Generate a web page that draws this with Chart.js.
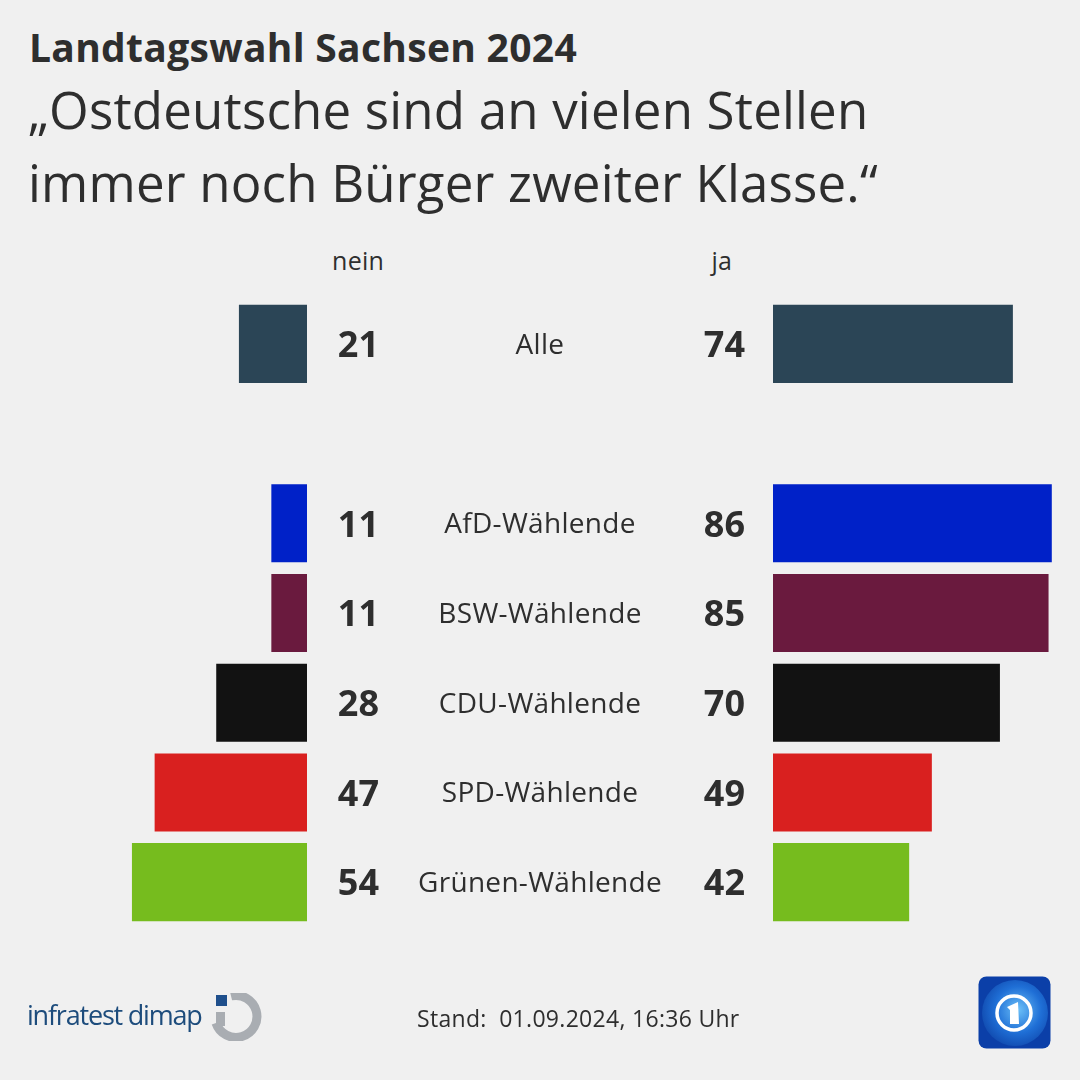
<!DOCTYPE html>
<html><head><meta charset="utf-8">
<script src="https://cdn.jsdelivr.net/npm/chart.js@4/dist/chart.umd.min.js"></script>
<style>
html,body{margin:0;padding:0;background:#f0f0f0;}
#wrap{position:relative;width:1080px;height:1080px;overflow:hidden;background:#f0f0f0;font-family:"Open Sans",sans-serif;color:#2e2e2e;}
canvas{position:absolute;left:0;top:0;}
.t{position:absolute;white-space:nowrap;}
</style></head><body>
<div id="wrap">
<div class="t" style="left:29px;top:20px;font-size:39px;font-weight:700;letter-spacing:0.3px;">Landtagswahl Sachsen 2024</div>
<div class="t" style="left:28px;top:73px;font-size:51px;line-height:73px;letter-spacing:0.2px;">„Ostdeutsche sind an vielen Stellen<br>immer noch Bürger zweiter Klasse.“</div>
<div class="t" id="hNein" style="top:243px;font-size:25px;letter-spacing:0.3px;"></div>
<div class="t" id="hJa" style="top:243px;font-size:25px;letter-spacing:0.3px;"></div>
<div style="position:absolute;left:0;top:0;width:1080px;height:1080px;"><canvas id="cL" width="1080" height="1080"></canvas></div>
<div style="position:absolute;left:0;top:0;width:1080px;height:1080px;"><canvas id="cR" width="1080" height="1080"></canvas></div>
<div class="t" style="left:27px;top:996px;font-size:27px;font-weight:500;color:#1d4c7c;letter-spacing:-1.2px;">infratest dimap</div>
<svg style="position:absolute;left:210px;top:993px;" width="52" height="48" viewBox="0 0 52 48">
  <rect x="6" y="2" width="11" height="11" fill="#1f4f8c"/>
  <path d="M21 3 A21 21 0 1 1 6 30" fill="none" stroke="#a9adb2" stroke-width="9"/>
  <rect x="6" y="19" width="9" height="14" fill="#a9adb2"/>
</svg>
<div class="t" style="left:417px;top:1002px;font-size:23px;letter-spacing:0.3px;">Stand:&nbsp; 01.09.2024, 16:36 Uhr</div>
<svg style="position:absolute;left:978px;top:976px;" width="73" height="73" viewBox="0 0 73 73">
  <defs>
    <radialGradient id="g" cx="0.55" cy="0.45" r="0.7">
      <stop offset="0" stop-color="#6cc0f8"/>
      <stop offset="0.5" stop-color="#1f6fd6"/>
      <stop offset="1" stop-color="#0a3a9e"/>
    </radialGradient>
  </defs>
  <rect x="0.5" y="0.5" width="72" height="72" rx="8" fill="#0b3fa8"/>
  <circle cx="37" cy="37" r="33" fill="url(#g)"/>
  <circle cx="36" cy="37" r="17" fill="none" stroke="#fff" stroke-width="3.5"/>
  <path d="M29 31 L40 26 L41 48 L32 48 L32 34 Z" fill="#fff"/>
</svg>
</div>
<script>
const categories = ['Alle', '', 'AfD-Wählende', 'BSW-Wählende', 'CDU-Wählende', 'SPD-Wählende', 'Grünen-Wählende'];
const neinValues = [21, null, 11, 11, 28, 47, 54];
const jaValues = [74, null, 86, 85, 70, 49, 42];
const barColors = ['#2b4556', '#ffffff', '#0021c8', '#6a1a3e', '#121212', '#d9201f', '#76bc1e'];
const headers = ['nein', 'ja'];

const AXIS_MAX = 94.7;
const TOP = 299, BOTTOM = 153, SPLIT_L = 307, SPLIT_R = 773;
const NUM_L = 379, NUM_R = 745, CENTER = 540;

document.getElementById('hNein').textContent = headers[0];
document.getElementById('hJa').textContent = headers[1];
function placeHeader(id, cx){const el=document.getElementById(id);el.style.left=(cx-el.offsetWidth/2)+'px';}
placeHeader('hNein', 358); placeHeader('hJa', 722);

function textPlugin(values, xNum, drawLabels){
  return {
    id:'txt',
    afterDatasetsDraw(chart){
      const ctx = chart.ctx, ys = chart.scales.y;
      ctx.save();
      ctx.fillStyle = '#2e2e2e';
      ctx.textBaseline = 'middle';
      values.forEach((v,i)=>{
        if(v==null) return;
        const y = ys.getPixelForValue(i);
        ctx.font = '700 36px "Open Sans"';
        ctx.letterSpacing = '0px';
        ctx.textAlign = 'right';
        ctx.fillText(String(v), xNum, y+3);
        if(drawLabels){
          ctx.font = '400 28px "Open Sans"';
          ctx.letterSpacing = '0.3px';
          ctx.textAlign = 'center';
          ctx.fillText(categories[i], CENTER, y+2);
        }
      });
      ctx.restore();
    }
  };
}

function makeChart(id, values, reverse, padding, xNum, drawLabels){
  return new Chart(document.getElementById(id), {
    type:'bar',
    data:{labels:categories, datasets:[{data:values, backgroundColor:barColors, borderWidth:0, barPercentage:0.87, categoryPercentage:1}]},
    options:{
      indexAxis:'y', responsive:false, animation:false,
      layout:{padding:padding},
      plugins:{legend:{display:false}, tooltip:{enabled:false}},
      scales:{
        x:{display:false, min:0, max:AXIS_MAX, reverse:reverse},
        y:{display:false}
      }
    },
    plugins:[textPlugin(values, xNum, drawLabels)]
  });
}
makeChart('cL', neinValues, true, {left:0, right:1080-SPLIT_L, top:TOP, bottom:BOTTOM}, NUM_L, true);
makeChart('cR', jaValues, false, {left:SPLIT_R, right:0, top:TOP, bottom:BOTTOM}, NUM_R, false);
</script>
</body></html>
